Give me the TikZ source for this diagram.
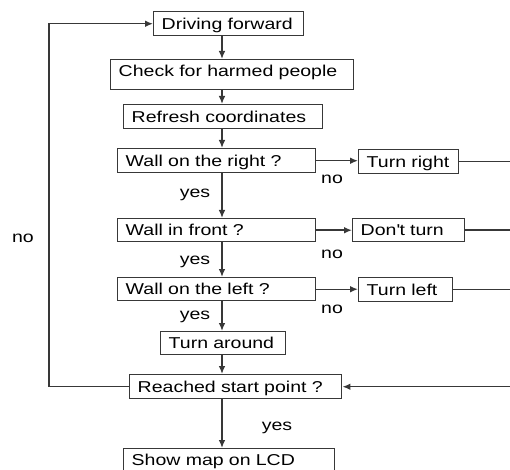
\documentclass[tikz,border=0pt]{standalone}
\usepackage{fontspec}
\setmainfont[FakeStretch=1.24]{Liberation Sans}
\usetikzlibrary{arrows.meta}
\begin{document}
\begin{tikzpicture}[x=0.75pt,y=-0.75pt,
  txt/.style={font=\fontsize{11.8pt}{14pt}\selectfont, text=black},
  box/.style={txt, draw=black!78, line width=1.1pt, anchor=north west,
    inner xsep=6pt, inner ysep=0pt, align=left, text height=8.4pt, text depth=0pt},
  lbl/.style={txt, anchor=base, inner sep=0pt},
  conn/.style={draw=black!78, line width=1.1pt},
  arr/.style={conn, -{Latex[length=6pt,width=5pt]}}]
\useasboundingbox (0,0) rectangle (510,470);
\fill[white] (0,0) rectangle (510,470);
% boxes
\node[box, text width=100.5pt,  minimum height=18pt] (drive)   at (153,11)  {\mbox{Driving forward}};
\node[box, text width=170.25pt, minimum height=22.5pt, text depth=6pt] (check) at (110,59) {\mbox{Check for harmed people}};
\node[box, text width=137.25pt, minimum height=18pt] (refresh) at (123,104) {\mbox{Refresh coordinates}};
\node[box, text width=136.5pt,  minimum height=18pt] (wright)  at (117,148) {\mbox{Wall on the right ?}};
\node[box, text width=63pt,     minimum height=18pt] (tright)  at (358,149) {\mbox{Turn right}};
\node[box, text width=136.5pt,  minimum height=17.25pt] (wfront) at (117,218) {\mbox{Wall in front ?}};
\node[box, text width=72pt,     minimum height=17.25pt] (dturn)  at (352,218) {\mbox{Don\textquotesingle t turn}};
\node[box, text width=136.5pt,  minimum height=17.25pt] (wleft)  at (117,277) {\mbox{Wall on the left ?}};
\node[box, text width=58.5pt,   minimum height=18pt] (tleft)   at (358,277) {\mbox{Turn left}};
\node[box, text width=81.75pt,  minimum height=17.25pt] (around) at (160,331) {\mbox{Turn around}};
\node[box, text width=147pt,    minimum height=18pt] (reached) at (129,374) {\mbox{Reached start point ?}};
\node[box, text width=146.25pt, minimum height=22.5pt, text depth=6pt] (show) at (123,448) {\mbox{Show map on LCD}};
% guide coordinates
\coordinate (spine) at (222,0);
\coordinate (rline) at (512,0);
\coordinate (lline) at (49,0);
% main flow
\draw[arr] (drive.south -| spine)   -- (check.north -| spine);
\draw[arr] (check.south -| spine)   -- (refresh.north -| spine);
\draw[arr] (refresh.south -| spine) -- (wright.north -| spine);
\draw[arr] (wright.south -| spine)  -- (wfront.north -| spine);
\draw[arr] (wfront.south -| spine)  -- (wleft.north -| spine);
\draw[arr] (wleft.south -| spine)   -- (around.north -| spine);
\draw[arr] (around.south -| spine)  -- (reached.north -| spine);
\draw[arr] (reached.south -| spine) -- (show.north -| spine);
% side branches
\draw[arr] (wright.east) -- (wright.east -| tright.west);
\draw[arr] (wfront.east) -- (wfront.east -| dturn.west);
\draw[arr] (wleft.east)  -- (wleft.east -| tleft.west);
\draw[conn] (tright.east) -- (tright.east -| rline) -- (reached.east -| rline);
\draw[conn] (dturn.east) -- (dturn.east -| rline);
\draw[conn] (tleft.east) -- (tleft.east -| rline);
\draw[arr] (reached.east -| rline) -- (reached.east);
% loop back
\draw[arr] (reached.west) -- (reached.west -| lline) -- (drive.west -| lline) -- (drive.west);
% labels
\node[lbl] (nol)  at (23,243)  {no};
\node[lbl] (no1)  at (332,184) {no};
\node[lbl] (no2)  at (332,258) {no};
\node[lbl] (no3)  at (332,313) {no};
\node[lbl] (yes1) at (195,198) {yes};
\node[lbl] (yes2) at (195,264) {yes};
\node[lbl] (yes3) at (195,319) {yes};
\node[lbl] (yes4) at (277,430) {yes};
\end{tikzpicture}
\end{document}
